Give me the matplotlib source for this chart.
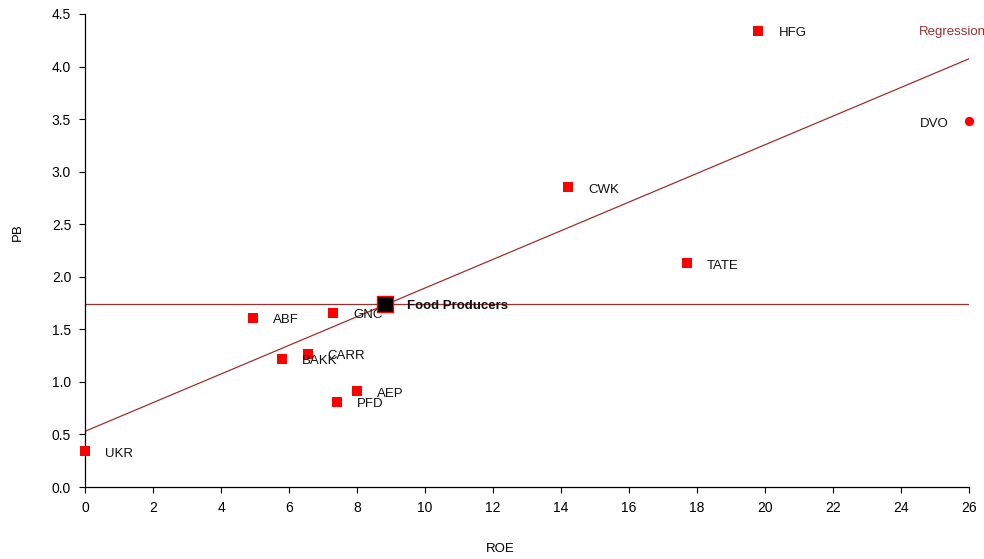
import matplotlib
matplotlib.use("Agg")
import matplotlib.pyplot as plt
import numpy as np

plt.rcParams['font.family'] = ['Liberation Sans', 'DejaVu Sans']

names = ["HFG", "CWK", "TATE", "ABF", "GNC", "BAKK", "CARR", "AEP", "PFD", "UKR"]
roe = [19.8, 14.2, 17.7, 4.95, 7.3, 5.8, 6.55, 8.0, 7.4, 0.0]
pb = [4.34, 2.85, 2.13, 1.61, 1.66, 1.22, 1.27, 0.91, 0.81, 0.34]

dvo_name = "DVO"
dvo_roe = 26.0
dvo_pb = 3.48

sector_name = "Food Producers"
sector_roe = 8.82
sector_pb = 1.74

reg_intercept = 0.53
reg_slope = 0.1363
reg_label = "Regression"

xticks = list(range(0, 27, 2))
yticks = [0.0, 0.5, 1.0, 1.5, 2.0, 2.5, 3.0, 3.5, 4.0, 4.5]

fig = plt.figure(figsize=(9.84, 5.59), dpi=100)
ax = fig.add_axes([0.0864, 0.1288, 0.8984, 0.8462])

brown = '#9b3030'
xl = np.array([0, 26])
ax.plot(xl, reg_intercept + reg_slope * xl, color=brown, lw=0.9, zorder=1)
ax.axhline(sector_pb, color=brown, lw=0.9, zorder=1)

ax.scatter(roe, pb, marker='s', s=50, color='#ff0000', zorder=3, clip_on=False, linewidths=0)
ax.scatter([dvo_roe], [dvo_pb], marker='o', s=45, color='#ff0000', zorder=3, clip_on=False, linewidths=0)
ax.scatter([sector_roe], [sector_pb], marker='s', s=120, color='black', edgecolors='#ff0000',
           linewidths=1, zorder=4, clip_on=False)

for n, x, y in zip(names, roe, pb):
    ax.annotate(n, (x, y), xytext=(14.5, -1.8), textcoords='offset points', va='center', ha='left',
                fontsize=9.5, color='#111111')
ax.annotate(dvo_name, (dvo_roe, dvo_pb), xytext=(-14.5, -1.8), textcoords='offset points', va='center',
            ha='right', fontsize=9.5, color='#111111')
ax.annotate(sector_name, (sector_roe, sector_pb), xytext=(16, -1.5), textcoords='offset points',
            va='center', ha='left', fontsize=9.5, fontweight='bold', color='#111111')

fig.text(919 / 984, 1 - 32 / 559, reg_label, color=brown, fontsize=9.5, va='center', ha='left')

ax.set_xlim(0, 26)
ax.set_ylim(0, 4.5)
ax.set_xticks(xticks)
ax.set_xticklabels([str(t) for t in xticks])
ax.set_yticks(yticks)
ax.set_yticklabels([f"{t:.1f}" for t in yticks])
ax.tick_params(labelsize=10, length=4, width=0.8, direction='out', pad=6)
ax.spines['top'].set_visible(False)
ax.spines['right'].set_visible(False)
for s in ('left', 'bottom'):
    ax.spines[s].set_linewidth(0.9)

fig.text(500 / 984, 1 - 549 / 559, "ROE", fontsize=9.5, ha='center', va='center')
fig.text(18 / 984, 1 - 232 / 559, "PB", fontsize=9.5, ha='center', va='center', rotation=90)

fig.savefig("out.png", dpi=100)
